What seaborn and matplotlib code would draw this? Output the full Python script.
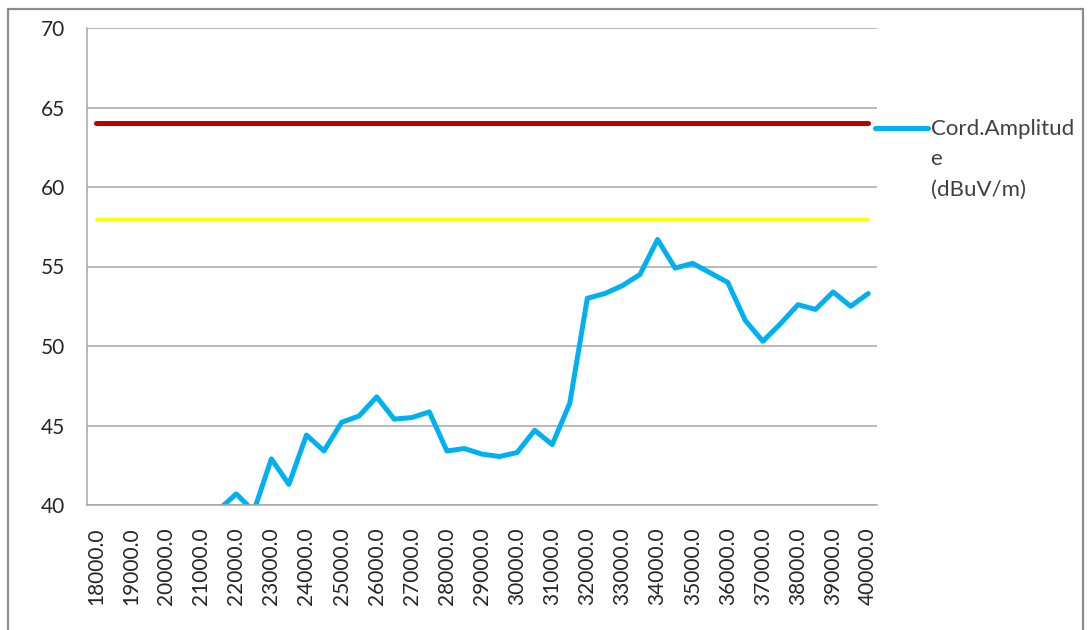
import numpy as np
import pandas as pd
import matplotlib
matplotlib.use("Agg")
import matplotlib.pyplot as plt
import seaborn as sns
from matplotlib.patches import Rectangle
from matplotlib.legend_handler import HandlerLine2D

# categories (frequency) and measured amplitude
freq = [18000.0, 18500.0, 19000.0, 19500.0, 20000.0, 20500.0, 21000.0, 21500.0,
        22000.0, 22500.0, 23000.0, 23500.0, 24000.0, 24500.0, 25000.0, 25500.0,
        26000.0, 26500.0, 27000.0, 27500.0, 28000.0, 28500.0, 29000.0, 29500.0,
        30000.0, 30500.0, 31000.0, 31500.0, 32000.0, 32500.0, 33000.0, 33500.0,
        34000.0, 34500.0, 35000.0, 35500.0, 36000.0, 36500.0, 37000.0, 37500.0,
        38000.0, 38500.0, 39000.0, 39500.0, 40000.0]
amplitude = [37.5, 37.8, 38.2, 37.6, 38.0, 38.4, 38.9, 39.7,
             40.7, 39.6, 42.9, 41.3, 44.4, 43.4, 45.2, 45.6,
             46.8, 45.4, 45.5, 45.85, 43.4, 43.55, 43.2, 43.05,
             43.3, 44.7, 43.8, 46.4, 53.0, 53.3, 53.8, 54.5,
             56.7, 54.9, 55.2, 54.6, 54.0, 51.6, 50.3, 51.4,
             52.6, 52.3, 53.4, 52.5, 53.3]
limit_red = 64.0
limit_yellow = 58.0
series_label = "Cord.Amplitud\ne\n(dBuV/m)"
yticks = [40, 45, 50, 55, 60, 65, 70]

df = pd.DataFrame({"pos": np.arange(len(freq)), "freq": freq, "amp": amplitude,
                   "red": [limit_red] * len(freq), "yellow": [limit_yellow] * len(freq)})


class TopLineHandler(HandlerLine2D):
    # put the legend line next to the first line of a wrapped label
    def create_artists(self, legend, orig_handle, xdescent, ydescent,
                       width, height, fontsize, trans):
        arts = super().create_artists(legend, orig_handle, xdescent, ydescent,
                                      width, height, fontsize, trans)
        for a in arts:
            a.set_ydata(np.asarray(a.get_ydata()) + 1.44 * fontsize)
        return arts


sns.set_style("white")
plt.rcParams["font.family"] = ["Lato", "DejaVu Sans"]

W, H = 1091, 630
fig = plt.figure(figsize=(W / 100, H / 100), dpi=100)
ax = fig.add_axes([87 / W, 1 - 505 / H, 790 / W, 477 / H])

grid_c = "#a6a6a6"
txt_c = "#262626"
for y in yticks:
    ax.axhline(y, color=grid_c, lw=1.1, zorder=0)

sns.lineplot(data=df, x="pos", y="red", color="#c00000", lw=3.6, ax=ax,
             solid_capstyle="round", legend=False)
sns.lineplot(data=df, x="pos", y="yellow", color="#ffff00", lw=2.2, ax=ax, legend=False)
sns.lineplot(data=df, x="pos", y="amp", color="#00b0f0", lw=3.6, ax=ax,
             label=series_label)

ax.set_xlim(-0.5, len(freq) - 0.5)
ax.set_ylim(40, 70)
ax.set_xlabel("")
ax.set_ylabel("")

for s in ["top", "right"]:
    ax.spines[s].set_visible(False)
for s in ["left", "bottom"]:
    ax.spines[s].set_color(grid_c)
    ax.spines[s].set_linewidth(1.1)

ax.set_yticks(yticks)
ax.set_yticklabels([str(v) for v in yticks], fontsize=15, color=txt_c)
ax.tick_params(axis="y", length=7, width=1.1, color=grid_c, pad=9)

major = np.arange(0, len(freq), 2)
ax.set_xticks(major)
ax.set_xticklabels([f"{freq[i]:.1f}" for i in major], rotation=90, fontsize=15,
                   color=txt_c)
ax.set_xticks(np.arange(-0.5, len(freq), 1), minor=True)
ax.tick_params(axis="x", which="major", length=0, pad=16)
ax.tick_params(axis="x", which="minor", length=7, width=1.1, color=grid_c)

handles, labels = ax.get_legend_handles_labels()
leg = ax.legend(handles, labels, loc="upper left", bbox_to_anchor=(875 / W, 1 - 119 / H),
                bbox_transform=fig.transFigure, frameon=False, fontsize=16,
                handlelength=2.4, handletextpad=0.1, borderpad=0, borderaxespad=0,
                handler_map={handles[0]: TopLineHandler()})
for t in leg.get_texts():
    t.set_color("#404040")
    t.set_linespacing(1.65)

# outer chart frame
fig.patches.append(Rectangle((8 / W, -0.1), 1075 / W, 1.1 - 9 / H, transform=fig.transFigure,
                             fill=False, edgecolor="#8c8c8c", lw=1.6))

fig.savefig("out.png", dpi=100)
